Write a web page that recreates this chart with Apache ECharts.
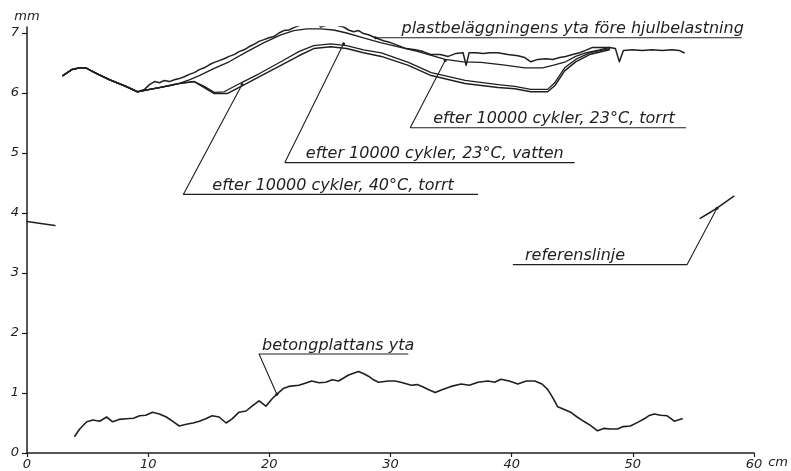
<!DOCTYPE html>
<html>
<head>
<meta charset="utf-8">
<script src="https://cdn.jsdelivr.net/npm/echarts@6/dist/echarts.min.js"></script>
<style>html,body{margin:0;padding:0;background:#fff}#c{width:791px;height:471px}</style>
</head>
<body>
<div id="c"></div>
<script>
// ---- data (x in cm, y in mm) ----
const xTicks = [0, 10, 20, 30, 40, 50, 60];
const yTicks = [0, 1, 2, 3, 4, 5, 6, 7];

// shared start of all four surface profiles
const sharedStart = [[2.96,6.29],[3.70,6.39],[4.35,6.42],[4.85,6.42],[5.59,6.34],[6.82,6.22],[8.05,6.12],[9.12,6.02]];

const foreHjulbelastning = [[9.70,6.06],[10.11,6.14],[10.52,6.19],[10.93,6.17],[11.34,6.21],[11.75,6.19],[12.16,6.22],[12.57,6.24],[12.98,6.27],[13.39,6.31],[13.80,6.34],[14.22,6.39],[14.63,6.42],[15.04,6.47],[15.45,6.51],[15.86,6.54],[16.27,6.57],[16.68,6.61],[17.09,6.64],[17.50,6.69],[17.91,6.72],[18.32,6.77],[18.73,6.81],[19.15,6.86],[19.56,6.89],[19.97,6.92],[20.38,6.94],[20.79,7.00],[21.20,7.04],[21.61,7.05],[22.02,7.09],[22.43,7.12],[22.84,7.15],[23.25,7.17],[23.66,7.19],[23.91,7.17],[24.24,7.10],[24.57,7.12],[24.90,7.15],[25.31,7.15],[25.72,7.12],[26.13,7.10],[26.54,7.05],[26.95,7.02],[27.36,7.04],[27.77,6.99],[28.18,6.97],[28.76,6.92],[29.42,6.87],[29.99,6.84],[30.65,6.79],[31.31,6.74],[32.05,6.72],[32.70,6.69],[33.36,6.64],[34.10,6.64],[34.76,6.61],[35.41,6.66],[35.99,6.67],[36.24,6.46],[36.48,6.67],[37.06,6.67],[37.63,6.66],[38.21,6.67],[38.87,6.67],[39.69,6.64],[40.51,6.62],[41.08,6.59],[41.58,6.52],[42.15,6.56],[42.81,6.57],[43.39,6.56],[43.96,6.59],[44.45,6.61],[45.03,6.64],[45.60,6.67],[46.10,6.71],[46.67,6.76],[47.49,6.76],[48.07,6.76],[48.56,6.74],[48.89,6.52],[49.22,6.71],[49.96,6.72],[50.78,6.71],[51.60,6.72],[52.42,6.71],[53.24,6.72],[53.82,6.71],[54.23,6.67]];

const torrt23 = [[10.11,6.06],[10.93,6.09],[11.75,6.12],[12.57,6.16],[13.39,6.22],[14.22,6.29],[15.45,6.41],[16.68,6.52],[18.16,6.69],[19.56,6.84],[20.95,6.97],[22.02,7.04],[23.09,7.07],[24.24,7.07],[25.31,7.05],[26.38,7.00],[27.77,6.92],[29.17,6.84],[30.65,6.77],[32.29,6.69],[34.51,6.56],[35.99,6.52],[37.47,6.51],[39.28,6.47],[41.08,6.42],[42.56,6.42],[43.39,6.46],[44.45,6.52],[45.28,6.61],[46.10,6.67],[47.25,6.72],[48.07,6.76]];

const vatten23 = [[10.11,6.06],[10.93,6.09],[12.57,6.16],[13.80,6.19],[14.63,6.11],[15.45,6.01],[16.27,6.02],[17.67,6.17],[19.15,6.32],[20.95,6.52],[22.43,6.69],[23.66,6.79],[25.06,6.82],[26.38,6.79],[27.77,6.72],[29.25,6.67],[31.47,6.51],[33.36,6.34],[36.15,6.21],[38.87,6.14],[40.26,6.11],[41.58,6.06],[42.97,6.06],[43.55,6.17],[44.37,6.42],[45.28,6.56],[46.43,6.67],[48.07,6.74]];

const torrt40 = [[10.11,6.06],[10.93,6.09],[12.57,6.16],[13.80,6.19],[14.63,6.09],[15.45,5.99],[16.52,5.99],[17.67,6.11],[19.15,6.27],[20.95,6.46],[22.43,6.62],[23.66,6.74],[25.06,6.77],[26.38,6.74],[27.77,6.67],[29.25,6.61],[31.47,6.46],[33.36,6.29],[36.15,6.16],[38.87,6.09],[40.26,6.07],[41.58,6.02],[42.97,6.02],[43.55,6.12],[44.37,6.37],[45.28,6.52],[46.43,6.64],[48.07,6.72]];

const betongplattan = [[3.94,0.28],[4.35,0.40],[4.93,0.52],[5.45,0.55],[6.00,0.53],[6.57,0.60],[7.07,0.52],[7.60,0.56],[8.22,0.57],[8.80,0.58],[9.29,0.62],[9.80,0.63],[10.35,0.68],[10.93,0.65],[11.50,0.60],[12.00,0.53],[12.57,0.45],[13.15,0.48],[13.70,0.50],[14.22,0.53],[14.75,0.57],[15.28,0.62],[15.86,0.60],[16.43,0.50],[16.93,0.57],[17.50,0.68],[18.08,0.70],[18.57,0.78],[19.15,0.87],[19.72,0.78],[20.21,0.90],[20.79,1.01],[21.20,1.08],[21.61,1.11],[22.43,1.13],[22.90,1.16],[23.50,1.20],[24.10,1.17],[24.65,1.18],[25.20,1.22],[25.72,1.20],[26.54,1.30],[27.36,1.36],[27.80,1.32],[28.18,1.28],[28.60,1.22],[29.01,1.18],[29.83,1.20],[30.40,1.20],[31.00,1.17],[31.72,1.13],[32.20,1.14],[32.70,1.10],[33.20,1.05],[33.69,1.01],[34.30,1.06],[35.00,1.11],[35.83,1.15],[36.50,1.13],[37.22,1.18],[38.04,1.20],[38.60,1.18],[39.11,1.23],[39.80,1.20],[40.51,1.15],[41.20,1.20],[41.91,1.20],[42.50,1.15],[42.97,1.06],[43.40,0.92],[43.80,0.77],[44.30,0.73],[44.86,0.68],[45.40,0.60],[46.01,0.52],[46.50,0.46],[47.08,0.37],[47.60,0.41],[48.15,0.40],[48.73,0.40],[49.20,0.44],[49.79,0.45],[50.40,0.51],[50.95,0.57],[51.30,0.62],[51.77,0.65],[52.30,0.63],[52.83,0.62],[53.10,0.58],[53.41,0.53],[54.07,0.57]];

const referensLeft = [[0,3.86],[2.30,3.79]];
const referensRight = [[55.55,3.91],[56.30,4.00],[56.94,4.08],[58.34,4.28]];

// annotations: label text, point on curve, elbow of leader, end of underline (x)
const annotLabels = ['plastbeläggningens yta före hjulbelastning','efter 10000 cykler, 23°C, torrt','efter 10000 cykler, 23°C, vatten','efter 10000 cykler, 40°C, torrt','referenslinje','betongplattans yta'];
const annotPoints = [[28.76,6.92],[34.51,6.54],[26.13,6.82],[17.75,6.14],[56.94,4.08],[20.62,0.98]];
const annotElbows = [[28.76,6.92],[31.63,5.42],[21.28,4.84],[12.90,4.31],[54.48,3.14],[19.15,1.65]];
const annotUnderlineEnds = [58.98,54.40,45.19,37.22,40.10,31.47];

// ---- styling ----
const INK = '#1f1f1f';
const FONT = 'DejaVu Sans';
const labelOffsets = [[26,-9,'left'],[23,-9,'left'],[21,-9,'left'],[29,-9,'left'],[-62,-9,'right'],[3,-8,'left']];

const chart = echarts.init(document.getElementById('c'), null, {renderer:'canvas'});

function curve(data, w) {
  return {type:'line', data:data, showSymbol:false, symbol:'none', silent:true, animation:false,
          lineStyle:{color:INK, width:w||1.4, join:'round', cap:'round'}};
}

const series = [
  curve(sharedStart.concat(foreHjulbelastning), 1.5),
  curve(sharedStart.concat(torrt23), 1.3),
  curve(sharedStart.concat(vatten23), 1.3),
  curve(sharedStart.concat(torrt40), 1.5),
  curve(betongplattan, 1.6),
  curve(referensLeft, 1.5),
  curve(referensRight, 1.5)
];
annotPoints.forEach(function(p, i){
  const e = annotElbows[i];
  series.push({type:'line', silent:true, animation:false,
    data:[{value:p, symbol:'circle', symbolSize:3}, {value:e, symbol:'none'}, {value:[annotUnderlineEnds[i], e[1]], symbol:'none'}],
    showSymbol:true, symbol:'none', itemStyle:{color:INK},
    lineStyle:{color:INK, width:1.1}});
});

chart.setOption({
  backgroundColor:'#ffffff',
  animation:false,
  grid:{left:27, right:34, top:27, bottom:17, containLabel:false},
  xAxis:{type:'value', min:0, max:60, interval:10,
    name:'cm', nameLocation:'end', nameGap:10,
    nameTextStyle:{fontFamily:FONT, fontStyle:'italic', fontSize:13, color:INK, verticalAlign:'top', padding:[3,0,0,0]},
    axisLine:{lineStyle:{color:INK, width:1.5}},
    axisTick:{show:true, length:4, lineStyle:{color:INK, width:1.2}},
    axisLabel:{fontFamily:FONT, fontStyle:'italic', fontSize:13, color:INK, margin:5},
    splitLine:{show:false}},
  yAxis:{type:'value', min:0, max:7.1,
    name:'mm', nameLocation:'end', nameGap:4,
    nameTextStyle:{fontFamily:FONT, fontStyle:'italic', fontSize:13, color:INK},
    axisLine:{show:true, lineStyle:{color:INK, width:1.5}},
    axisTick:{show:true, length:5, customValues:yTicks, lineStyle:{color:INK, width:1.2}},
    axisLabel:{fontFamily:FONT, fontStyle:'italic', fontSize:13, color:INK, margin:8, customValues:yTicks},
    splitLine:{show:false}},
  series:series
});

// annotation texts, positioned via the axes' own scale
const texts = annotLabels.map(function(t, i){
  const px = chart.convertToPixel({xAxisIndex:0, yAxisIndex:0}, annotElbows[i]);
  const o = labelOffsets[i];
  return {type:'text', x:px[0]+o[0], y:px[1]+o[1], silent:true,
    style:{text:t, fill:INK, font:'italic 16px "' + FONT + '"', align:o[2], verticalAlign:'middle'}};
});
chart.setOption({graphic:texts});
</script>
</body>
</html>
